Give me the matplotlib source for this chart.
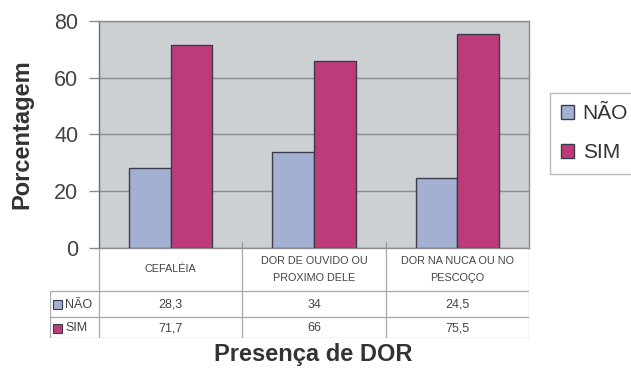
import matplotlib
matplotlib.use("Agg")
import matplotlib.pyplot as plt
import numpy as np
from matplotlib.patches import Rectangle, Patch

categories = ["CEFALÉIA", "DOR DE OUVIDO OU\nPROXIMO DELE", "DOR NA NUCA OU NO\nPESCOÇO"]
series_names = ["NÃO", "SIM"]
nao = [28.3, 34, 24.5]
sim = [71.7, 66, 75.5]
nao_labels = ["28,3", "34", "24,5"]
sim_labels = ["71,7", "66", "75,5"]
yticks = [0, 20, 40, 60, 80]

colors = ["#A3B0D2", "#BE3B7A"]
edge = "#3A3C4A"
grid_c = "#8A8C8E"
line_c = "#A8A8A8"
txt_c = "#444444"

plt.rcParams['font.family'] = ['Liberation Sans', 'DejaVu Sans']
W, H = 631, 376
fig = plt.figure(figsize=(W / 100, H / 100), dpi=100)
fig.patch.set_facecolor("white")


def fx(px):
    return px / W


def fy(py):
    return 1 - py / H


# main axes
ax = fig.add_axes([fx(99), fy(248), (529 - 99) / W, (248 - 21) / H])
ax.set_facecolor("#CDD0D3")
x = np.arange(len(categories))
w = 0.29
ax.bar(x - w / 2, nao, w, color=colors[0], edgecolor=edge, lw=1, zorder=3)
ax.bar(x + w / 2, sim, w, color=colors[1], edgecolor=edge, lw=1, zorder=3)
ax.set_xlim(-0.5, len(categories) - 0.5)
ax.set_ylim(0, 80)
ax.set_yticks(yticks)
ax.set_yticklabels([str(t) for t in yticks], fontsize=15.5, color=txt_c)
ax.yaxis.grid(True, color=grid_c, lw=1)
ax.set_axisbelow(True)
ax.set_xticks([0.5, 1.5])
ax.set_xticklabels([])
ax.tick_params(axis='x', direction='in', length=4, color=grid_c)
ax.tick_params(axis='y', length=7, width=1, color=grid_c, pad=8)
for s in ax.spines.values():
    s.set_color(grid_c)
    s.set_linewidth(1)
ax.spines['left'].set_color("#6A6C6E")
ax.set_ylabel("Porcentagem", fontsize=17, fontweight='bold', color="#333333")
ax.yaxis.set_label_coords((33 - 99) / 430, 0.5)

# table axes
col_px = (529 - 99) / 3.0
xl = -0.5 - 49 / col_px
tax = fig.add_axes([fx(50), fy(338), (529 - 50) / W, (338 - 248) / H])
tax.set_xlim(xl, 2.5)
tax.set_ylim(338, 248)
tax.axis('off')
lk = dict(color=line_c, lw=0.9, solid_capstyle='butt')
for xv in [-0.5, 0.5, 1.5, 2.5]:
    tax.plot([xv, xv], [248, 338], **lk)
tax.plot([xl, xl], [291, 338], **lk)
for yv in [291, 317, 338]:
    tax.plot([xl, 2.5], [yv, yv], **lk)

for i, c in enumerate(categories):
    tax.text(i, 269.5, c, fontsize=7.8, ha='center', va='center', color=txt_c, linespacing=1.85)
    tax.text(i, 304.5, nao_labels[i], fontsize=9, ha='center', va='center', color=txt_c)
    tax.text(i, 328, sim_labels[i], fontsize=9, ha='center', va='center', color=txt_c)

for name, col, yc in [(series_names[0], colors[0], 304.5), (series_names[1], colors[1], 328)]:
    tax.add_patch(Rectangle((xl + 3 / col_px, yc - 4.5), 9 / col_px, 9, facecolor=col,
                            edgecolor=edge, lw=0.8, clip_on=False))
    tax.text(xl + 15 / col_px, yc, name, fontsize=9, ha='left', va='center', color=txt_c)

fig.text(fx(313), fy(355), "Presença de DOR", fontsize=17, fontweight='bold',
         ha='center', va='center', color="#333333")

handles = [Patch(facecolor=colors[0], edgecolor=edge, lw=1),
           Patch(facecolor=colors[1], edgecolor=edge, lw=1)]
leg = fig.legend(handles, series_names, loc='upper left', bbox_to_anchor=(fx(550), fy(93)),
                 frameon=True, fancybox=False, edgecolor="#AAAAAA", fontsize=15,
                 handlelength=0.62, handleheight=0.62, handletextpad=0.4,
                 labelspacing=0.95, borderpad=0.55, borderaxespad=0)
leg.get_frame().set_linewidth(1)
for t in leg.get_texts():
    t.set_color("#333333")

fig.savefig("out.png", dpi=100)
